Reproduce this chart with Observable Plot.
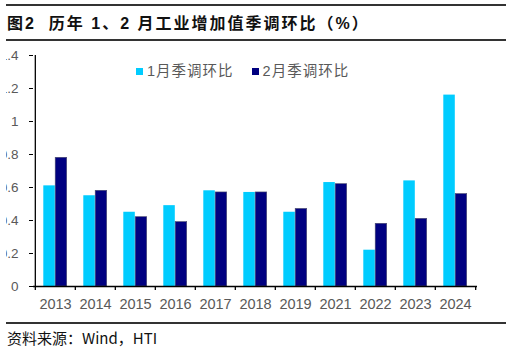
<!DOCTYPE html>
<html>
<head>
<meta charset="utf-8">
<script src="https://cdn.jsdelivr.net/npm/d3@7"></script>
<script src="https://cdn.jsdelivr.net/npm/@observablehq/plot@0.6"></script>
<style>
  html, body { margin: 0; padding: 0; background: #fff; }
  #wrap { position: relative; width: 511px; height: 350px; overflow: hidden; font-family: Arial, "Liberation Sans", "Noto Sans CJK SC", sans-serif; }
  .rule { position: absolute; left: 6px; width: 500px; height: 2px; background: #333; }
  #title { position: absolute; left: 7px; top: 10px; font-size: 16px; letter-spacing: 2px; font-weight: bold; color: #111; font-family: Arial, "Liberation Sans", "Noto Sans CJK SC", sans-serif; white-space: nowrap; }
  #chart { position: absolute; left: 0; top: 45px; clip-path: inset(0 0 0 6px); }
  #legend { position: absolute; top: 59px; left: 136px; font-size: 14.5px; color: #595959; white-space: nowrap; font-family: Arial, "Noto Sans CJK SC", sans-serif; }
  #legend span.sw { display: inline-block; width: 7px; height: 7px; margin-right: 4px; vertical-align: 1px; }
  #legend span.item { margin-right: 18px; letter-spacing: 1px; }
  #source { position: absolute; left: 7px; top: 327px; font-size: 15px; color: #111; white-space: nowrap; font-family: "Noto Sans CJK SC", Arial, sans-serif; }
</style>
</head>
<body>
<div id="wrap">
  <div class="rule" style="top:4px"></div>
  <div id="title">图2&nbsp;&nbsp;历年 1、2 月工业增加值季调环比（%）</div>
  <div class="rule" style="top:39px"></div>
  <div id="chart"></div>
  <div id="legend"></div>
  <div class="rule" style="top:322px; height:1.5px"></div>
  <div id="source">资料来源：Wind，HTI</div>
</div>
<script>
const years = ["2013","2014","2015","2016","2017","2018","2019","2021","2022","2023","2024"];
const janValues = [0.61, 0.55, 0.45, 0.49, 0.58, 0.57, 0.45, 0.63, 0.22, 0.64, 1.16];
const febValues = [0.78, 0.58, 0.42, 0.39, 0.57, 0.57, 0.47, 0.62, 0.38, 0.41, 0.56];
const seriesNames = ["1月季调环比", "2月季调环比"];
const seriesColors = ["#00CCFF", "#000080"];
const yTicks = [0, 0.2, 0.4, 0.6, 0.8, 1, 1.2, 1.4];

const rows = years.map((y, i) => ({year: y, jan: janValues[i], feb: febValues[i]}));

const W = 511, H = 273, mL = 33, mR = 34, mT = 10, mB = 32;
const bw = (W - mL - mR) / years.length;

const chart = Plot.plot({
  width: W,
  height: H,
  marginLeft: mL,
  marginRight: mR,
  marginTop: mT,
  marginBottom: mB,
  style: {fontFamily: "Arial, 'Liberation Sans', sans-serif", color: "#595959", background: "transparent", overflow: "hidden"},
  x: {domain: years, padding: 0, label: null},
  y: {domain: [0, 1.4], label: null},
  marks: [
    Plot.barY(rows, {x: "year", y: "jan", fill: seriesColors[0], insetLeft: 8.3, insetRight: 20.2}),
    Plot.barY(rows, {x: "year", y: "feb", fill: seriesColors[1], stroke: "#4a4a6e", strokeWidth: 0.6, insetLeft: 20.2, insetRight: 8.3}),
    Plot.ruleY([0], {stroke: "#000", strokeWidth: 1.3}),
    Plot.ruleX([0], {x: () => years[0], y1: 0, y2: 1.4, dx: -bw / 2, stroke: "#000", strokeWidth: 1.3}),
    Plot.ruleX(years, {x: d => d, y1: 0, y2: 0, insetBottom: -4, dx: -bw / 2, stroke: "#000", strokeWidth: 1.3}),
    Plot.ruleX([years[years.length - 1]], {x: d => d, y1: 0, y2: 0, insetBottom: -4, dx: bw / 2, stroke: "#000", strokeWidth: 1.3}),
    Plot.axisX({tickSize: 0, tickPadding: 12, fontSize: 14.5, fill: "#595959", label: null}),
    Plot.axisY({ticks: yTicks, tickSize: 4, tickPadding: 11, fontSize: 13.5, fill: "#595959", stroke: "#000", tickFormat: d3.format("~g"), label: null})
  ]
});
document.getElementById("chart").appendChild(chart);

const legend = document.getElementById("legend");
seriesNames.forEach((n, i) => {
  const item = document.createElement("span");
  item.className = "item";
  const sw = document.createElement("span");
  sw.className = "sw";
  sw.style.background = seriesColors[i];
  item.appendChild(sw);
  item.appendChild(document.createTextNode(n));
  legend.appendChild(item);
});
</script>
</body>
</html>
